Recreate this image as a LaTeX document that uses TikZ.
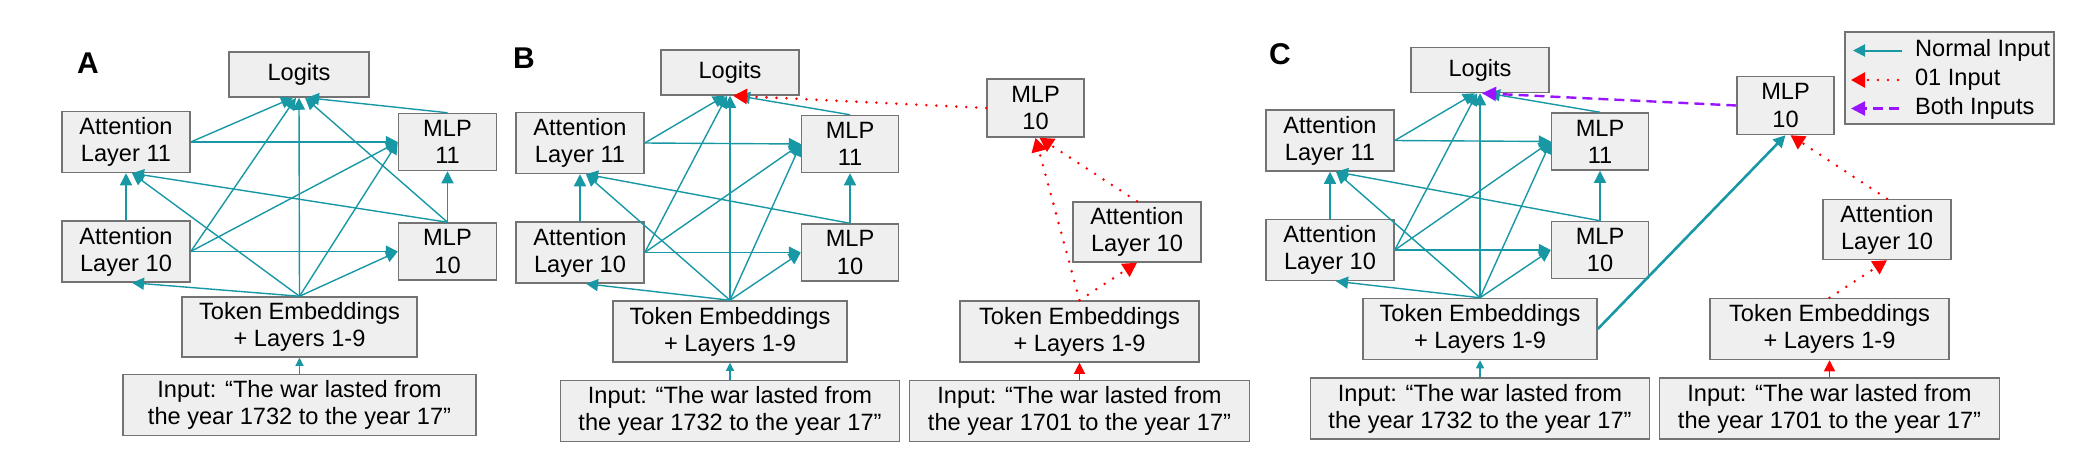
\documentclass[tikz,border=0pt]{standalone}
\usepackage{fontspec}
\setmainfont{Liberation Sans}
\usetikzlibrary{positioning,arrows.meta}

\definecolor{normc}{RGB}{24,152,164}
\definecolor{onec}{RGB}{255,0,0}
\definecolor{bothc}{RGB}{155,20,255}
\definecolor{boxc}{RGB}{239,239,239}
\definecolor{linec}{RGB}{115,115,115}

\tikzset{
  blk/.style={draw=linec, fill=boxc, line width=0.75pt, align=center, inner sep=0pt,
    font=\fontsize{11.8}{13.6}\selectfont},
  normin/.style={color=normc, line width=0.7pt, -{Triangle[length=6pt,width=6pt]}},
  oneinp/.style={color=onec, line width=1.4pt, line cap=round, dash pattern=on 0pt off 5pt,
    -{Triangle[length=7pt,width=7.5pt]}},
  bothin/.style={color=bothc, line width=1.2pt, dash pattern=on 5pt off 3pt,
    -{Triangle[length=7pt,width=7pt]}},
  inarr/.style={color=normc, line width=0.6pt, -{Triangle[length=4pt,width=4pt]}},
  oneinarr/.style={color=onec, line width=0.6pt, -{Triangle[length=5.5pt,width=5.5pt]}},
  panel/.style={font=\fontsize{15}{15}\selectfont\bfseries},
}

\begin{document}
\begin{tikzpicture}[x=0.5pt, y=-0.5pt]
\useasboundingbox (0,0) rectangle (2092,450);

  % Panel A
\node[panel] (lblA) at (88,63) {A};
\node[blk, minimum width=70pt, minimum height=22.5pt] (logA) at (299,74.5) {Logits};
\node[blk, minimum width=64pt, minimum height=30.5pt] (att10A) at (126,251.5) {Attention\\Layer 10};
\node[blk, minimum width=64pt, minimum height=30.5pt, above=23.5pt of att10A] (att11A) {Attention\\Layer 11};
\node[blk, minimum width=49pt, minimum height=28.5pt, right=103.5pt of att10A] (mlp10A) {MLP\\10};
\node[blk, minimum width=49pt, minimum height=28.5pt, above=25.5pt of mlp10A] (mlp11A) {MLP\\11};
\node[blk, minimum width=117.5pt, minimum height=30pt] (embA) at (299.5,327) {Token Embeddings\\+ Layers 1-9};
\node[blk, minimum width=176.5pt, minimum height=30.5pt, below=8pt of embA] (inA) {Input: “The war lasted from\\the year 1732 to the year 17”};

\draw[normin] (att11A.east) -- ([xshift=-3pt]logA.south);
\draw[normin] (att11A.east) -- (mlp11A.west);
\draw[normin] (mlp11A.north) -- ([xshift=4pt]logA.south);
\draw[normin] (mlp10A.north) -- (mlp11A.south);
\draw[normin] (mlp10A.north) -- ([xshift=3pt]att11A.south);
\draw[normin] (mlp10A.north) -- ([xshift=3pt]logA.south);
\draw[normin] (att10A.north) -- (att11A.south);
\draw[normin] (att10A.east) -- ([xshift=-1.5pt]logA.south);
\draw[normin] (att10A.east) -- (mlp11A.west);
\draw[normin] (att10A.east) -- (mlp10A.west);
\draw[normin] (embA.north) -- ([xshift=3pt]att10A.south);
\draw[normin] (embA.north) -- ([xshift=3pt]att11A.south);
\draw[normin] (embA.north) -- (logA.south);
\draw[normin] (embA.north) -- (mlp11A.west);
\draw[normin] (embA.north) -- (mlp10A.west);
\draw[inarr] (inA) -- (embA);

  % Panel B
\node[panel] (lblB) at (524,58.5) {B};
\node[blk, minimum width=69pt, minimum height=22.5pt] (logB) at (730,72.5) {Logits};
\node[blk, minimum width=64pt, minimum height=30.5pt] (att10B) at (580,252.5) {Attention\\Layer 10};
\node[blk, minimum width=64pt, minimum height=30.5pt, above=23.5pt of att10B] (att11B) {Attention\\Layer 11};
\node[blk, minimum width=48.5pt, minimum height=28.5pt, right=78pt of att10B] (mlp10B) {MLP\\10};
\node[blk, minimum width=48.5pt, minimum height=28.5pt, above=25pt of mlp10B] (mlp11B) {MLP\\11};
\node[blk, minimum width=117pt, minimum height=30.5pt] (embB) at (730,331.5) {Token Embeddings\\+ Layers 1-9};
\node[blk, minimum width=169.5pt, minimum height=30.5pt, below=8.5pt of embB] (inB) {Input: “The war lasted from\\the year 1732 to the year 17”};
\node[blk, minimum width=48.5pt, minimum height=29pt] (mlpRB) at (1035.5,108) {MLP\\10};
\node[blk, minimum width=64pt, minimum height=30pt] (attRB) at (1137,232) {Attention\\Layer 10};
\node[blk, minimum width=119.5pt, minimum height=30.5pt] (embRB) at (1079.5,331.5) {Token Embeddings\\+ Layers 1-9};
\node[blk, minimum width=170pt, minimum height=30.5pt, below=8.5pt of embRB] (inRB) {Input: “The war lasted from\\the year 1701 to the year 17”};

\draw[normin] (att11B.east) -- ([xshift=-2.5pt]logB.south);
\draw[normin] (att11B.east) -- (mlp11B.west);
\draw[normin] (mlp11B.north) -- ([xshift=4pt]logB.south);
\draw[normin] (mlp10B.north) -- (mlp11B.south);
\draw[normin] (mlp10B.north) -- ([xshift=3pt]att11B.south);
\draw[normin] (att10B.north) -- (att11B.south);
\draw[normin] (att10B.east) -- ([xshift=-1.5pt]logB.south);
\draw[normin] (att10B.east) -- (mlp11B.west);
\draw[normin] (att10B.east) -- (mlp10B.west);
\draw[normin] (embB.north) -- ([xshift=3pt]att10B.south);
\draw[normin] (embB.north) -- ([xshift=3pt]att11B.south);
\draw[normin] (embB.north) -- (logB.south);
\draw[normin] (embB.north) -- (mlp11B.west);
\draw[normin] (embB.north) -- (mlp10B.west);
\draw[inarr] (inB) -- (embB);
\draw[oneinp] (mlpRB.west) -- ([xshift=1.5pt]logB.south);
\draw[oneinp] (attRB.north) -- ([xshift=2pt]mlpRB.south);
\draw[oneinp] (embRB.north) -- (mlpRB.south);
\draw[oneinp] (embRB.north) -- (attRB.south);
\draw[oneinarr] (inRB) -- (embRB);

  % Panel C
\begin{scope}[shift={(750,-2.5)}]
\node[panel] (lblC) at (530,57) {C};
\node[blk, minimum width=69pt, minimum height=22.5pt] (logC) at (730,72.5) {Logits};
\node[blk, minimum width=64pt, minimum height=30.5pt] (att10C) at (580,252.5) {Attention\\Layer 10};
\node[blk, minimum width=64pt, minimum height=30.5pt, above=23.5pt of att10C] (att11C) {Attention\\Layer 11};
\node[blk, minimum width=48.5pt, minimum height=28.5pt, right=78pt of att10C] (mlp10C) {MLP\\10};
\node[blk, minimum width=48.5pt, minimum height=28.5pt, above=25pt of mlp10C] (mlp11C) {MLP\\11};
\node[blk, minimum width=117pt, minimum height=30.5pt] (embC) at (730,331.5) {Token Embeddings\\+ Layers 1-9};
\node[blk, minimum width=169.5pt, minimum height=30.5pt, below=8.5pt of embC] (inC) {Input: “The war lasted from\\the year 1732 to the year 17”};
\node[blk, minimum width=48.5pt, minimum height=29pt] (mlpRC) at (1035.5,108) {MLP\\10};
\node[blk, minimum width=64pt, minimum height=30pt] (attRC) at (1137,232) {Attention\\Layer 10};
\node[blk, minimum width=119.5pt, minimum height=30.5pt] (embRC) at (1079.5,331.5) {Token Embeddings\\+ Layers 1-9};
\node[blk, minimum width=170pt, minimum height=30.5pt, below=8.5pt of embRC] (inRC) {Input: “The war lasted from\\the year 1701 to the year 17”};
\end{scope}

\draw[normin] (att11C.east) -- ([xshift=-2.5pt]logC.south);
\draw[normin] (att11C.east) -- (mlp11C.west);
\draw[normin] (mlp11C.north) -- ([xshift=4pt]logC.south);
\draw[normin] (mlp10C.north) -- (mlp11C.south);
\draw[normin] (mlp10C.north) -- ([xshift=3pt]att11C.south);
\draw[normin] (att10C.north) -- (att11C.south);
\draw[normin] (att10C.east) -- ([xshift=-1.5pt]logC.south);
\draw[normin] (att10C.east) -- (mlp11C.west);
\draw[normin] (att10C.east) -- (mlp10C.west);
\draw[normin] (embC.north) -- ([xshift=3pt]att10C.south);
\draw[normin] (embC.north) -- ([xshift=3pt]att11C.south);
\draw[normin] (embC.north) -- (logC.south);
\draw[normin] (embC.north) -- (mlp11C.west);
\draw[normin] (embC.north) -- (mlp10C.west);
\draw[inarr] (inC) -- (embC);
\draw[normin, line width=1.3pt] (embC.east) -- (mlpRC.south);
\draw[bothin] (mlpRC.west) -- ([xshift=1pt]logC.south);
\draw[oneinp] (attRC.north) -- ([xshift=2.5pt]mlpRC.south);
\draw[oneinp] (embRC.north) -- (attRC.south);
\draw[oneinarr] (inRC) -- (embRC);

  % Legend
\node[blk, minimum width=104.5pt, minimum height=46pt] (leg) at (1949.5,78) {};
\coordinate (nrmS) at (1902,50.5);
\coordinate (nrmE) at (1853,50.5);
\coordinate (oneS) at (1898,80);
\coordinate (oneE) at (1851,80);
\coordinate (botS) at (1899,108.5);
\coordinate (botE) at (1851,108.5);
\draw[normin, line width=1pt] (nrmS) -- (nrmE);
\draw[oneinp] (oneS) -- (oneE);
\draw[bothin] (botS) -- (botE);
\node[anchor=west, font=\fontsize{11.8}{13.6}\selectfont] (nrmT) at (1908,50.5) {Normal Input};
\node[anchor=west, font=\fontsize{11.8}{13.6}\selectfont] (oneT) at (1908,80) {01 Input};
\node[anchor=west, font=\fontsize{11.8}{13.6}\selectfont] (botT) at (1908,108.5) {Both Inputs};

\end{tikzpicture}
\end{document}
